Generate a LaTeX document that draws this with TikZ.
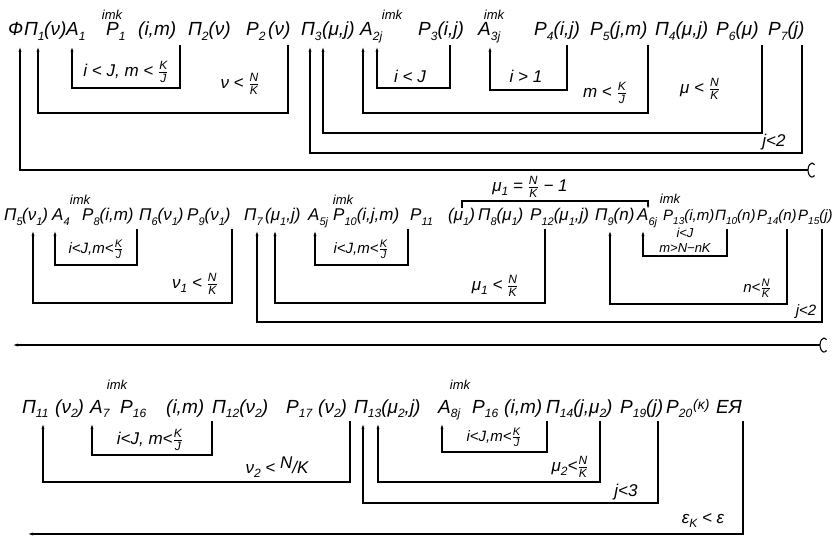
\documentclass[tikz,border=0pt]{standalone}
\usepackage{amsmath}
\usepackage{fontspec}
\setmainfont{Liberation Sans}
\usetikzlibrary{arrows.meta}
\def\subsz{12}
\def\frsz{12}
\newcommand\sbs[1]{\raisebox{-0.45ex}{\fontsize{\subsz}{\subsz}\selectfont #1}}
\newcommand\fr[2]{\ensuremath{\genfrac{}{}{0.7pt}{}{\mbox{\fontsize{\frsz}{\frsz}\selectfont #1}}{\mbox{\fontsize{\frsz}{\frsz}\selectfont #2}}}}
\tikzset{
  tk/.style={anchor=base west, inner sep=0pt, font=\itshape\fontsize{19}{19}\selectfont},
  tkb/.style={anchor=base west, inner sep=0pt, font=\itshape\fontsize{17}{17}\selectfont\def\subsz{11}},
  tkc/.style={anchor=base west, inner sep=0pt, font=\itshape\fontsize{15}{15}\selectfont\def\subsz{10}},
  lbl/.style={inner sep=0pt, font=\itshape\fontsize{17}{17}\selectfont},
  lbls/.style={inner sep=0pt, font=\itshape\fontsize{15}{15}\selectfont\def\subsz{10}\def\frsz{11}},
  lblt/.style={inner sep=0pt, font=\itshape\fontsize{13}{13}\selectfont},
  imk/.style={inner sep=0pt, font=\itshape\fontsize{13}{13}\selectfont},
  ln/.style={line width=1.1pt},
  arr/.style={ln, -{Latex[length=6pt,width=3pt]}},
  sarr/.style={ln, -{Latex[length=4pt,width=2.6pt]}}
}
\begin{document}
\begin{tikzpicture}[x=1pt,y=-1pt]
\fill[white] (0,0) rectangle (835,540);
\useasboundingbox (0,0) rectangle (835,540);

% ---------------- Row 1 ----------------
\node[tk] (r1a) at (8,36) {Ф};
\node[tk] (r1b) at (24,36) {П\sbs{1}};
\node[tk] (r1c) at (44,36) {(ν)};
\node[tk] (r1d) at (66,36) {A\sbs{1}};
\node[tk] (r1e) at (106,36) {P\sbs{1}};
\node[tk] (r1f) at (138,36) {(i,m)};
\node[tk] (r1g) at (188,36) {П\sbs{2}(ν)};
\node[tk] (r1h) at (246,36) {P\sbs{2}};
\node[tk] (r1i) at (268,36) {(ν)};
\node[tk] (r1j) at (301,36) {П\sbs{3}};
\node[tk] (r1k) at (322,36) {(μ,j)};
\node[tk] (r1l) at (360,36) {A\sbs{2j}};
\node[tk] (r1m) at (418,36) {P\sbs{3}(i,j)};
\node[tk] (r1n) at (478,36) {A\sbs{3j}};
\node[tk] (r1o) at (534,36) {P\sbs{4}(i,j)};
\node[tk] (r1p) at (590,36) {P\sbs{5}(j,m)};
\node[tk] (r1q) at (655,36) {П\sbs{4}(μ,j)};
\node[tk] (r1r) at (716,36) {P\sbs{6}(μ)};
\node[tk] (r1s) at (768,36) {P\sbs{7}(j)};
\node[imk] (i1a) at (112,15) {imk};
\node[imk] (i1b) at (392,15) {imk};
\node[imk] (i1c) at (494,15) {imk};

\node[lbl] (l1a) at (126,72) {i < J, m < \fr{K}{J}};
\node[lbl] (l1b) at (240,84) {ν < \fr{N}{K}};
\node[lbl] (l1c) at (410,76) {i < J};
\node[lbl] (l1d) at (526,76) {i > 1};
\node[lbl] (l1e) at (605,93) {m < \fr{K}{J}};
\node[lbl] (l1f) at (700,89) {μ < \fr{N}{K}};
\node[lbl] (l1g) at (774,142) {j<2};

\coordinate (c1as) at (180,45); \coordinate (c1at) at (72,46);
\draw[arr] (c1as) -- ++(0,43) -| (c1at);
\coordinate (c1bs) at (288,45); \coordinate (c1bt) at (38,46);
\draw[arr] (c1bs) -- ++(0,68) -| (c1bt);
\coordinate (c1cs) at (450,45); \coordinate (c1ct) at (377,46);
\draw[arr] (c1cs) -- ++(0,43) -| (c1ct);
\coordinate (c1ds) at (567,45); \coordinate (c1dt) at (490,46);
\draw[arr] (c1ds) -- ++(0,45) -| (c1dt);
\coordinate (c1es) at (648,45); \coordinate (c1et) at (363,46);
\draw[arr] (c1es) -- ++(0,68) -| (c1et);
\coordinate (c1fs) at (762,45); \coordinate (c1ft) at (323,46);
\draw[arr] (c1fs) -- ++(0,88) -| (c1ft);
\coordinate (c1gs) at (802,45); \coordinate (c1gt) at (310,46);
\draw[arr] (c1gs) -- ++(0,108) -| (c1gt);
\coordinate (e1) at (808,170); \coordinate (phit) at (20,46);
\draw[arr] (e1) -| (phit);
\draw[ln] ([shift={(6.6,5.4)}]e1) arc[start angle=50,end angle=310,x radius=4,y radius=7];

% ---------------- Row 2 ----------------
\node[lbl] (l2m) at (530,187) {μ\sbs{1} = \fr{N}{K} − 1};
\coordinate (bkL) at (462,208); \coordinate (bkR) at (648,209);
\draw[sarr] (bkL) -- ++(0,-7) -| (bkR);

\node[tkb] (r2a) at (4,221) {П\sbs{5}};
\node[tkb] (r2b) at (22,221) {(ν\sbs{1})};
\node[tkb] (r2c) at (52,221) {A\sbs{4}};
\node[tkb] (r2d) at (82,221) {P\sbs{8}(i,m)};
\node[tkb] (r2e) at (139,221) {П\sbs{6}(ν\sbs{1})};
\node[tkb] (r2f) at (187,221) {P\sbs{9}(ν\sbs{1})};
\node[tkb] (r2g) at (244,221) {П\sbs{7}};
\node[tkb] (r2h) at (265,221) {(μ\sbs{1},j)};
\node[tkb] (r2i) at (308,221) {A\sbs{5j}};
\node[tkb] (r2j) at (333,221) {P\sbs{10}(i,j,m)};
\node[tkb] (r2k) at (410,221) {P\sbs{11}};
\node[tkb] (r2l) at (448,221) {(μ\sbs{1})};
\node[tkb] (r2m) at (478,221) {П\sbs{8}(μ\sbs{1})};
\node[tkb] (r2n) at (530,221) {P\sbs{12}(μ\sbs{1},j)};
\node[tkb] (r2o) at (595,221) {П\sbs{9}(n)};
\node[tkb] (r2p) at (637,221) {A\sbs{6j}};
\node[tkc] (r2q) at (663,221) {P\sbs{13}(i,m)};
\node[tkc] (r2r) at (715,221) {П\sbs{10}(n)};
\node[tkc] (r2s) at (757,221) {P\sbs{14}(n)};
\node[tkc] (r2t) at (798,221) {P\sbs{15}(j)};
\node[imk] (i2a) at (80,200) {imk};
\node[imk] (i2b) at (343,200) {imk};
\node[imk] (i2c) at (670,199) {imk};

\node[lbls] (l2a) at (96,249) {i<J,m<\fr{K}{J}};
\node[lbl] (l2b) at (195,284) {ν\sbs{1} < \fr{N}{K}};
\node[lbls] (l2c) at (361,249) {i<J,m<\fr{K}{J}};
\node[lbl] (l2d) at (495,286) {μ\sbs{1} < \fr{N}{K}};
\node[lblt] (l2e) at (685,233) {i<J};
\node[lblt] (l2f) at (685,248) {m>N−nK};
\node[lbls] (l2g) at (757,288) {n<\fr{N}{K}};
\node[lbls] (l2h) at (806,312) {j<2};

\coordinate (c2as) at (137,229); \coordinate (c2at) at (55,230);
\draw[arr] (c2as) -- ++(0,36) -| (c2at);
\coordinate (c2bs) at (232,229); \coordinate (c2bt) at (33,230);
\draw[arr] (c2bs) -- ++(0,74) -| (c2bt);
\coordinate (c2cs) at (408,229); \coordinate (c2ct) at (315,230);
\draw[arr] (c2cs) -- ++(0,36) -| (c2ct);
\coordinate (c2ds) at (545,229); \coordinate (c2dt) at (275,230);
\draw[arr] (c2ds) -- ++(0,74) -| (c2dt);
\coordinate (c2es) at (727,229); \coordinate (c2et) at (643,230);
\draw[arr] (c2es) -- ++(0,27) -| (c2et);
\coordinate (c2fs) at (787,229); \coordinate (c2ft) at (610,230);
\draw[arr] (c2fs) -- ++(0,75) -| (c2ft);
\coordinate (c2gs) at (822,229); \coordinate (c2gt) at (257,230);
\draw[arr] (c2gs) -- ++(0,93) -| (c2gt);
\coordinate (e2) at (820,345); \coordinate (e2t) at (12,345);
\draw[arr] (e2) -- (e2t);
\draw[ln] ([shift={(6.6,5.4)}]e2) arc[start angle=50,end angle=310,x radius=4,y radius=7];

% ---------------- Row 3 ----------------
\node[tk] (r3a) at (22,413) {П\sbs{11}};
\node[tk] (r3b) at (55,413) {(ν\sbs{2})};
\node[tk] (r3c) at (90,413) {A\sbs{7}};
\node[tk] (r3d) at (120,413) {P\sbs{16}};
\node[tk] (r3e) at (166,413) {(i,m)};
\node[tk] (r3f) at (212,413) {П\sbs{12}(ν\sbs{2})};
\node[tk] (r3g) at (286,413) {P\sbs{17}};
\node[tk] (r3h) at (318,413) {(ν\sbs{2})};
\node[tk] (r3i) at (354,413) {П\sbs{13}(μ\sbs{2},j)};
\node[tk] (r3j) at (438,413) {A\sbs{8j}};
\node[tk] (r3k) at (472,413) {P\sbs{16}};
\node[tk] (r3l) at (504,413) {(i,m)};
\node[tk] (r3m) at (546,413) {П\sbs{14}(j,μ\sbs{2})};
\node[tk] (r3n) at (620,413) {P\sbs{19}(j)};
\node[tk] (r3o) at (666,413) {P\sbs{20}};
\node[tk] (r3p) at (693,413) {\raisebox{0.3ex}{\fontsize{14}{14}\selectfont(κ)}};
\node[tk] (r3q) at (716,413) {EЯ};
\node[imk] (i3a) at (117,385) {imk};
\node[imk] (i3b) at (460,385) {imk};

\node[lbl] (l3a) at (150,440) {i<J, m<\fr{K}{J}};
\node[lbl] (l3b) at (277,467) {ν\sbs{2} < \raisebox{0.5ex}{N}/K};
\node[lbls] (l3c) at (494,437) {i<J,m<\fr{K}{J}};
\node[lbl] (l3d) at (570,467) {μ\sbs{2}<\fr{N}{K}};
\node[lbl] (l3e) at (626,492) {j<3};
\node[lbl] (l3f) at (703,521) {ε\sbs{K} < ε};

\coordinate (c3as) at (212,421); \coordinate (c3at) at (92,423);
\draw[arr] (c3as) -- ++(0,34) -| (c3at);
\coordinate (c3bs) at (350,421); \coordinate (c3bt) at (43,423);
\draw[arr] (c3bs) -- ++(0,61) -| (c3bt);
\coordinate (c3cs) at (547,421); \coordinate (c3ct) at (442,423);
\draw[arr] (c3cs) -- ++(0,31) -| (c3ct);
\coordinate (c3ds) at (600,421); \coordinate (c3dt) at (378,423);
\draw[arr] (c3ds) -- ++(0,61) -| (c3dt);
\coordinate (c3es) at (658,421); \coordinate (c3et) at (363,423);
\draw[arr] (c3es) -- ++(0,82) -| (c3et);
\coordinate (e3s) at (743,421); \coordinate (e3t) at (27,534);
\draw[arr] (e3s) |- (e3t);
\end{tikzpicture}
\end{document}
